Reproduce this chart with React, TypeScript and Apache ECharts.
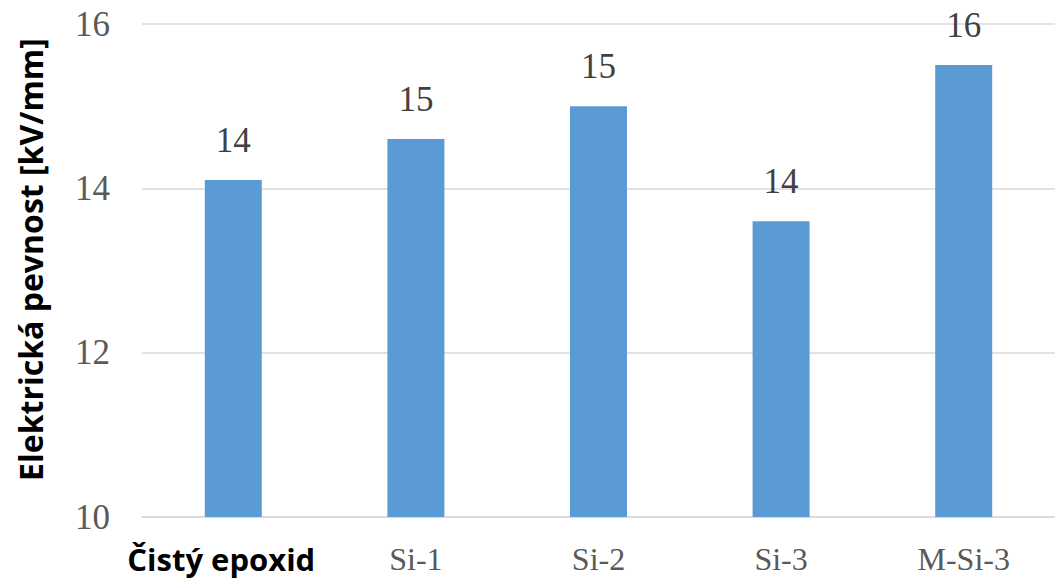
import React, { useEffect, useRef } from "react";
import * as echarts from "echarts";

const categories = ["Čistý epoxid", "Si-1", "Si-2", "Si-3", "M-Si-3"];
const strength = [14.1, 14.6, 15.0, 13.6, 15.5];
const yTicks = [10, 12, 14, 16];
const yTitle = "Elektrická pevnost [kV/mm]";

export default function App() {
  const ref = useRef<HTMLDivElement>(null);
  useEffect(() => {
    if (!ref.current) return;
    const chart = echarts.init(ref.current, null, { renderer: "svg" });
    chart.setOption({
      animation: false,
      backgroundColor: "#ffffff",
      grid: { left: 142, top: 24, width: 918, bottom: 61, containLabel: false },
      xAxis: {
        type: "category",
        data: categories,
        axisLine: { show: true, lineStyle: { color: "#d9d9d9", width: 1.5 } },
        axisTick: { show: false },
        axisLabel: {
          margin: 26,
          formatter: (v: string, i: number) => (i === 0 ? `{b|${v}}` : `{s|${v}}`),
          rich: {
            b: { fontFamily: "Open Sans", fontWeight: "bold", fontSize: 31, color: "#000000", padding: [0, 24, 0, 0] },
            s: { fontFamily: "Liberation Serif", fontSize: 32, color: "#595959" },
          },
        },
      },
      yAxis: {
        type: "value",
        min: yTicks[0],
        max: yTicks[yTicks.length - 1],
        interval: 2,
        name: yTitle,
        nameLocation: "middle",
        nameGap: 96,
        nameTextStyle: { fontFamily: "Open Sans", fontWeight: "bold", fontSize: 32, color: "#000000", padding: [0, 0, 0, 22] },
        axisLine: { show: false },
        axisTick: { show: false },
        axisLabel: { margin: 32, fontFamily: "Liberation Serif", fontSize: 35, color: "#595959" },
        splitLine: { lineStyle: { color: "#d9d9d9", width: 1.5 } },
      },
      series: [
        {
          type: "bar",
          data: strength,
          barWidth: 57,
          itemStyle: { color: "#5b9bd5" },
          label: {
            show: true,
            position: "top",
            distance: 22,
            fontFamily: "Liberation Serif",
            fontSize: 35,
            color: "#404040",
            formatter: (p: any) => String(Math.round(p.value)),
          },
        },
      ],
    });
    return () => chart.dispose();
  }, []);
  return <div ref={ref} style={{ position: "fixed", left: 0, top: 0, width: 1055, height: 578 }} />;
}
